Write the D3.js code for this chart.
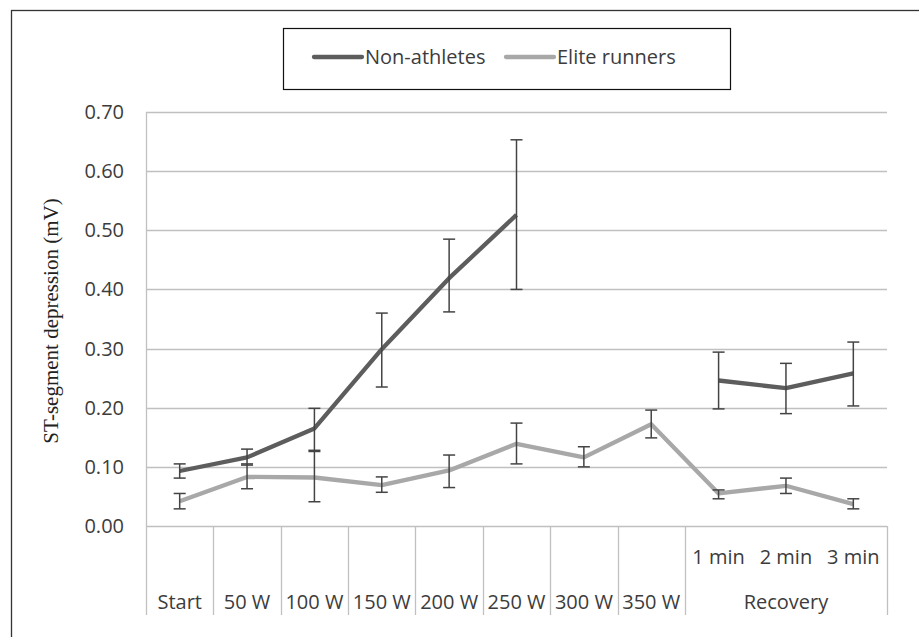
<!DOCTYPE html>
<html>
<head>
<meta charset="utf-8">
<script src="https://cdn.jsdelivr.net/npm/d3@7"></script>
<style>
  body { margin: 0; background: #fff; }
  svg { display: block; }
  text { font-family: "Open Sans", sans-serif; fill: #3c3c3c; }
</style>
</head>
<body>
<div id="container"></div>
<script>
// categories along the bottom
const categories = ["Start", "50 W", "100 W", "150 W", "200 W", "250 W", "300 W", "350 W", "1 min", "2 min", "3 min"];
const recoveryCats = ["1 min", "2 min", "3 min"];
const yTicks = [0, 0.1, 0.2, 0.3, 0.4, 0.5, 0.6, 0.7];

// Non-athletes (mean, upper and lower error)
const nonAthletes   = [0.093, 0.116, 0.165, 0.299, 0.419, 0.526, null, null, 0.246, 0.233, 0.258];
const nonAthletesHi = [0.105, 0.130, 0.199, 0.360, 0.485, 0.653, null, null, 0.294, 0.275, 0.311];
const nonAthletesLo = [0.081, 0.103, 0.128, 0.235, 0.362, 0.400, null, null, 0.198, 0.190, 0.203];

// Elite runners
const elite   = [0.042, 0.083, 0.082, 0.069, 0.094, 0.139, 0.116, 0.172, 0.055, 0.068, 0.037];
const eliteHi = [0.055, 0.105, 0.126, 0.083, 0.120, 0.174, 0.134, 0.196, 0.061, 0.081, 0.046];
const eliteLo = [0.029, 0.063, 0.041, 0.057, 0.065, 0.105, 0.100, 0.149, 0.046, 0.055, 0.029];

const width = 919, height = 637;
const plotLeft = 146, plotRight = 887, plotTop = 112, plotBottom = 526, axisBottom = 615;
const fontSize = "20px";

const svg = d3.select("#container").append("svg")
  .attr("width", width).attr("height", height);

// outer frame
svg.append("rect")
  .attr("x", 11.5).attr("y", 10.5).attr("width", 920).attr("height", 640)
  .attr("fill", "none").attr("stroke", "#333").attr("stroke-width", 1.3);

const x = d3.scaleBand().domain(categories).range([plotLeft, plotRight]);
const y = d3.scaleLinear().domain([0, 0.7]).range([plotBottom, plotTop]);

// gridlines
svg.append("g").selectAll("line")
  .data(yTicks)
  .join("line")
  .attr("x1", plotLeft).attr("x2", plotRight)
  .attr("y1", d => Math.round(y(d)) + 0.5).attr("y2", d => Math.round(y(d)) + 0.5)
  .attr("stroke", "#c0c0c0").attr("stroke-width", 1.3);

// y tick labels
svg.append("g").selectAll("text")
  .data(yTicks)
  .join("text")
  .attr("x", 124).attr("y", d => y(d))
  .attr("dy", "0.35em")
  .attr("text-anchor", "end")
  .style("font-size", fontSize)
  .text(d => d3.format(".2f")(d));

// left axis line
svg.append("line")
  .attr("x1", plotLeft + 0.5).attr("x2", plotLeft + 0.5)
  .attr("y1", plotTop).attr("y2", axisBottom)
  .attr("stroke", "#c0c0c0").attr("stroke-width", 1.3);

// category separators (none between recovery minutes)
const seps = categories.filter(c => c !== "2 min" && c !== "3 min" && c !== "Start").map(c => x(c));
seps.push(plotRight);
svg.append("g").selectAll("line")
  .data(seps)
  .join("line")
  .attr("x1", d => Math.round(d) + 0.5).attr("x2", d => Math.round(d) + 0.5)
  .attr("y1", plotBottom).attr("y2", axisBottom)
  .attr("stroke", "#c0c0c0").attr("stroke-width", 1.3);

// category labels
svg.append("g").selectAll("text")
  .data(categories)
  .join("text")
  .attr("x", d => x(d) + x.bandwidth() / 2)
  .attr("y", d => recoveryCats.includes(d) ? 557 : 602)
  .attr("dy", "0.35em")
  .attr("text-anchor", "middle")
  .style("font-size", fontSize)
  .text(d => d);

svg.append("text")
  .attr("x", (x("1 min") + plotRight) / 2).attr("y", 602)
  .attr("dy", "0.35em")
  .attr("text-anchor", "middle")
  .style("font-size", fontSize)
  .text("Recovery");

// y axis title
svg.append("text")
  .attr("transform", "translate(58,321) rotate(-90)")
  .attr("text-anchor", "middle")
  .style("font-family", "'Liberation Serif', 'Times New Roman', serif")
  .style("font-size", "21px")
  .style("fill", "#222")
  .text("ST-segment depression (mV)");

const cx = i => x(categories[i]) + x.bandwidth() / 2;

const series = [
  { name: "Non-athletes", vals: nonAthletes, hi: nonAthletesHi, lo: nonAthletesLo, color: "#5d5d5d" },
  { name: "Elite runners", vals: elite, hi: eliteHi, lo: eliteLo, color: "#a8a8a8" }
];

const line = d3.line()
  .defined(d => d != null)
  .x((d, i) => cx(i))
  .y(d => y(d));

svg.append("g").selectAll("path")
  .data(series.slice().reverse())
  .join("path")
  .attr("d", s => line(s.vals))
  .attr("fill", "none")
  .attr("stroke", s => s.color)
  .attr("stroke-width", 4.3)
  .attr("stroke-linejoin", "round");

// error bars
series.forEach(s => {
  const bars = s.vals.map((v, i) => ({ i, v, hi: s.hi[i], lo: s.lo[i] })).filter(d => d.v != null);
  const g = svg.append("g").attr("stroke", "#444").attr("stroke-width", 1.5);
  g.selectAll("line.stem").data(bars).join("line").attr("class", "stem")
    .attr("x1", d => cx(d.i)).attr("x2", d => cx(d.i))
    .attr("y1", d => y(d.hi)).attr("y2", d => y(d.lo));
  g.selectAll("line.cap-hi").data(bars).join("line").attr("class", "cap-hi")
    .attr("x1", d => cx(d.i) - 6).attr("x2", d => cx(d.i) + 6)
    .attr("y1", d => y(d.hi)).attr("y2", d => y(d.hi));
  g.selectAll("line.cap-lo").data(bars).join("line").attr("class", "cap-lo")
    .attr("x1", d => cx(d.i) - 6).attr("x2", d => cx(d.i) + 6)
    .attr("y1", d => y(d.lo)).attr("y2", d => y(d.lo));
});

// legend
const legend = svg.append("g");
legend.append("rect")
  .attr("x", 283.5).attr("y", 28.5).attr("width", 447).attr("height", 61)
  .attr("fill", "#fff").attr("stroke", "#111").attr("stroke-width", 1.2);
const legendX = [314, 506];
legend.selectAll("g.item")
  .data(series)
  .join("g").attr("class", "item")
  .each(function (s, i) {
    const g = d3.select(this);
    g.append("line")
      .attr("x1", legendX[i]).attr("x2", legendX[i] + 48)
      .attr("y1", 57).attr("y2", 57)
      .attr("stroke", s.color).attr("stroke-width", 4.3).attr("stroke-linecap", "round");
    g.append("text")
      .attr("x", legendX[i] + 51).attr("y", 57).attr("dy", "0.35em")
      .style("font-size", fontSize)
      .text(s.name);
  });
</script>
</body>
</html>
